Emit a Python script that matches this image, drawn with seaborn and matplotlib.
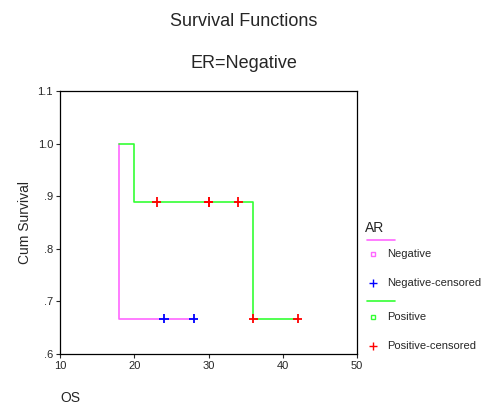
import pandas as pd
import matplotlib
matplotlib.use("Agg")
import matplotlib.pyplot as plt
import seaborn as sns
from matplotlib.lines import Line2D

# Kaplan-Meier step curves (ER=Negative)
neg_time = [18, 18, 28]
neg_surv = [1.0, 0.667, 0.667]
pos_time = [18, 20, 36, 42]
pos_surv = [1.0, 0.889, 0.667, 0.667]

# censored observations
neg_cens_time = [24, 28]
neg_cens_surv = [0.667, 0.667]
pos_cens_time = [23, 30, 30, 34, 36, 42]
pos_cens_surv = [0.889, 0.889, 0.889, 0.889, 0.667, 0.667]

xticks = [10, 20, 30, 40, 50]
yticks = [0.6, 0.7, 0.8, 0.9, 1.0, 1.1]
ytick_labels = [".6", ".7", ".8", ".9", "1.0", "1.1"]

col_neg = "#ff66ff"
col_pos = "#33ff33"

sns.set_style("white")
plt.rcParams["font.family"] = ["Liberation Sans", "DejaVu Sans"]

curves = pd.DataFrame({
    "OS": neg_time + pos_time,
    "surv": neg_surv + pos_surv,
    "AR": ["Negative"] * len(neg_time) + ["Positive"] * len(pos_time),
})
cens = pd.DataFrame({
    "OS": neg_cens_time + pos_cens_time,
    "surv": neg_cens_surv + pos_cens_surv,
    "AR": ["Negative-censored"] * len(neg_cens_time) + ["Positive-censored"] * len(pos_cens_time),
})

fig = plt.figure(figsize=(4.88, 4.15), dpi=100)
ax = fig.add_axes([0.123, 0.147, 0.609, 0.634])

sns.lineplot(data=curves, x="OS", y="surv", hue="AR", estimator=None, sort=False,
             drawstyle="steps-post", palette={"Negative": col_neg, "Positive": col_pos},
             linewidth=1.2, legend=False, ax=ax)
sns.scatterplot(data=cens, x="OS", y="surv", hue="AR", marker="+", s=45, linewidth=1.3,
                palette={"Negative-censored": "blue", "Positive-censored": "red"},
                legend=False, ax=ax, zorder=3)

ax.set_xlim(10, 50)
ax.set_ylim(0.6, 1.1)
ax.set_xticks(xticks)
ax.set_yticks(yticks)
ax.set_yticklabels(ytick_labels)
ax.tick_params(axis="both", labelsize=8, length=3, width=0.8, direction="out",
               bottom=True, left=True, pad=2)
for s in ax.spines.values():
    s.set_color("black")
    s.set_linewidth(0.9)
ax.set_xlabel("")
ax.set_ylabel("Cum Survival", fontsize=10)

fig.text(0.5, 0.948, "Survival Functions", ha="center", va="center", fontsize=13)
fig.text(0.5, 0.846, "ER=Negative", ha="center", va="center", fontsize=13)
fig.text(0.123, 0.04, "OS", ha="left", va="center", fontsize=10)

# legend
lx0, lx1 = 367 / 488, 395 / 488
fig.text(365 / 488, 1 - 228 / 415, "AR", ha="left", va="center", fontsize=10)
items = [
    ("line", col_neg, 240, None),
    ("s", col_neg, 254, "Negative"),
    ("+", "blue", 283, "Negative-censored"),
    ("line", col_pos, 301, None),
    ("s", col_pos, 317, "Positive"),
    ("+", "red", 346, "Positive-censored"),
]
for kind, c, ypix, lab in items:
    yf = 1 - ypix / 415
    if kind == "line":
        fig.add_artist(Line2D([lx0, lx1], [yf, yf], color=c, lw=1.2, transform=fig.transFigure))
    else:
        if kind == "s":
            fig.add_artist(Line2D([373 / 488], [yf], marker="s", ms=3.5, mfc="white", mec=c,
                                  mew=1.0, ls="none", transform=fig.transFigure))
        else:
            fig.add_artist(Line2D([373 / 488], [yf], marker="+", ms=6, mec=c,
                                  mew=1.0, ls="none", transform=fig.transFigure))
        fig.text(387 / 488, yf, lab, ha="left", va="center", fontsize=8)

fig.savefig("out.png", dpi=100)
